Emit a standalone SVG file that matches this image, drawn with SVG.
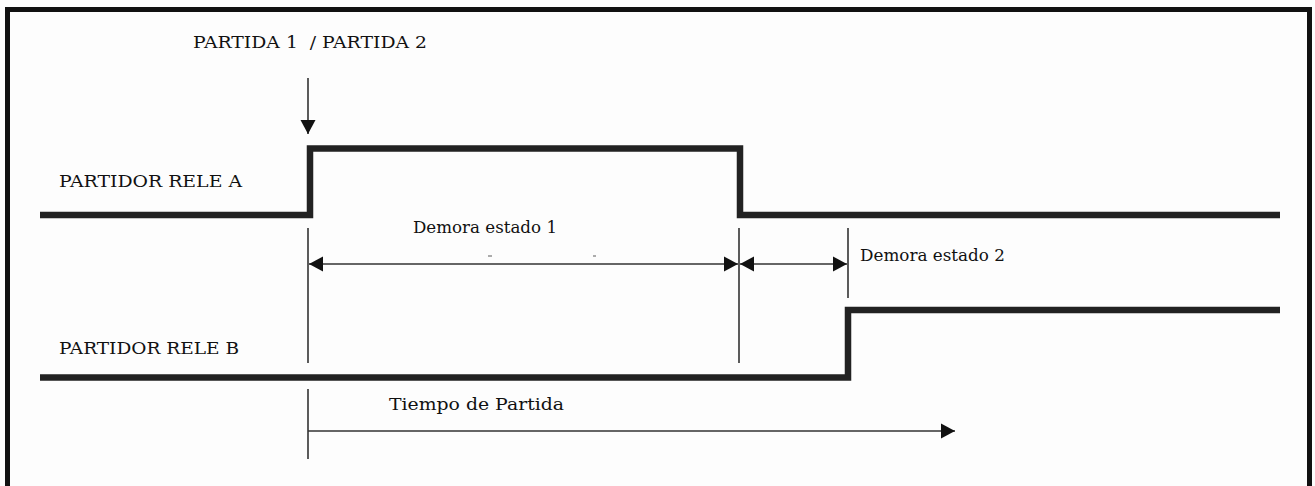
<svg xmlns="http://www.w3.org/2000/svg" width="1315" height="486" viewBox="0 0 1315 486">
  <style>
    .frame { fill: none; stroke: #111; stroke-width: 5; }
    .signal { fill: none; stroke: #222; stroke-width: 6.5; stroke-linejoin: miter; stroke-linecap: butt; }
    .thin { fill: none; stroke: #333; stroke-width: 1.6; }
    .tick { stroke: #777; stroke-width: 1.2; }
    .lbl { font-family: "DejaVu Serif", "Liberation Serif", serif; font-size: 17px; fill: #111; white-space: pre; }
  </style>
  <defs>
    <marker id="arrowEnd" markerUnits="userSpaceOnUse" markerWidth="16" markerHeight="16" refX="14" refY="8" orient="auto">
      <path d="M0,0.5 L14,8 L0,15.5 Z" fill="#111"/>
    </marker>
    <marker id="arrowStart" markerUnits="userSpaceOnUse" markerWidth="16" markerHeight="16" refX="0" refY="8" orient="auto">
      <path d="M14,0.5 L0,8 L14,15.5 Z" fill="#111"/>
    </marker>
  </defs>

  <rect x="0" y="0" width="1315" height="486" fill="#fdfdfd"/>

  <!-- outer border, open at the bottom -->
  <path class="frame" d="M7.5,490 V9.5 H1309.5 V490"/>

  <!-- relay A waveform -->
  <g id="signal-a">
    <path class="signal" d="M40,215 H310 V148.5 H740 V215 H1280"/>
    <text class="lbl" x="59" y="187" textLength="183" lengthAdjust="spacingAndGlyphs">PARTIDOR RELE A</text>
  </g>

  <!-- relay B waveform -->
  <g id="signal-b">
    <path class="signal" d="M40,377.5 H848 V310 H1280"/>
    <text class="lbl" x="59" y="354" textLength="180" lengthAdjust="spacingAndGlyphs">PARTIDOR RELE B</text>
  </g>

  <!-- start trigger -->
  <g id="trigger">
    <text class="lbl" x="193" y="48" textLength="234" lengthAdjust="spacingAndGlyphs" xml:space="preserve">PARTIDA 1  / PARTIDA 2</text>
  </g>

  <!-- timing labels -->
  <g id="delay-1">
    <text class="lbl" x="413" y="233" textLength="144" lengthAdjust="spacingAndGlyphs">Demora estado 1</text>
  </g>
  <g id="delay-2">
    <text class="lbl" x="860" y="261" textLength="145" lengthAdjust="spacingAndGlyphs">Demora estado 2</text>
  </g>
  <g id="start-time">
    <text class="lbl" x="389" y="410" textLength="175" lengthAdjust="spacingAndGlyphs">Tiempo de Partida</text>
  </g>

  <!-- dimension lines and arrows -->
  <g id="connectors">
    <line class="thin" x1="308" y1="78" x2="308" y2="134" marker-end="url(#arrowEnd)"/>
    <line class="thin" x1="308" y1="228" x2="308" y2="363"/>
    <line class="thin" x1="739" y1="228" x2="739" y2="363"/>
    <line class="thin" x1="848" y1="228" x2="848" y2="298"/>
    <line class="thin" x1="308" y1="389" x2="308" y2="459"/>
    <line class="thin" x1="309" y1="264" x2="738" y2="264" marker-start="url(#arrowStart)" marker-end="url(#arrowEnd)"/>
    <line class="thin" x1="740" y1="264" x2="847" y2="264" marker-start="url(#arrowStart)" marker-end="url(#arrowEnd)"/>
    <line class="thin" x1="308" y1="431" x2="955" y2="431" marker-end="url(#arrowEnd)"/>
    <line class="tick" x1="488" y1="256" x2="492" y2="256"/>
    <line class="tick" x1="593" y1="256" x2="596" y2="256"/>
  </g>
</svg>
